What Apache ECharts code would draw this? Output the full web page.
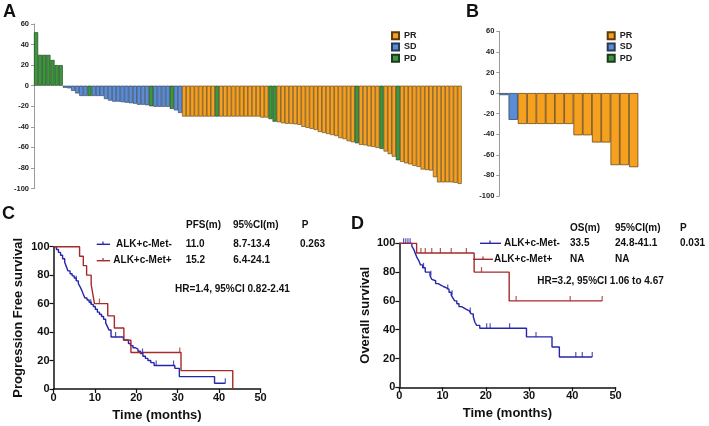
<!DOCTYPE html>
<html><head><meta charset="utf-8">
<script src="https://cdn.jsdelivr.net/npm/echarts@6/dist/echarts.min.js"></script>
<style>html,body{margin:0;padding:0;background:#fff}#c{width:709px;height:426px}</style>
</head><body><div id="c"></div>
<script>
// ---------- Panel A: waterfall ----------
const valuesA = [52,30,30,30,25,20,20,
 -2,-2.5,-5,-7.5,-10,-10,-10,-10,-10,-10,-13,-14.5,-15.5,-15.5,-16,-16.5,-17,-17.5,-18.5,-18.5,-19,-20,-20.5,-20.5,-20.5,-20.5,-22.5,-24,-26.5,
 -30,-30,-30,-30,-30,-30,-30,-30,-30,-30,-30,-30,-30,-30,-30,-30,-30,-30,-30,-31,-31,-32.5,-35,
 -35.5,-36.5,-37,-37,-37.5,-38,-40,-41,-42,-43,-45,-46,-47,-48,-49,-51,-52,-54,-55,-56,-57.5,-58,-59,-59.5,-60.5,-61.5,-64,-66.5,-69,-72.5,
 -74,-75.5,-76.5,-78,-79,-81.5,-82,-82.5,-89,-94,-94,-94,-94,-94.5,-95.5];
const pdIdxA = [0,1,2,3,4,5,6,13,28,33,44,57,58,78,84,88];
const responseA = valuesA.map((v,i)=> pdIdxA.includes(i) ? 'PD' : (i>=7 && i<=35 ? 'SD' : 'PR'));
// ---------- Panel B ----------
const valuesB = [-2,-26,-30,-30,-30,-30,-30,-30,-41,-41,-48,-48,-70,-70,-72];
const responseB = ['SD','SD','PR','PR','PR','PR','PR','PR','PR','PR','PR','PR','PR','PR','PR'];
const responseTypes = ['PR','SD','PD'];
const waterfallTicks = [60,40,20,0,-20,-40,-60,-80,-100];
// ---------- Panel C: PFS ----------
const pfsNegT = [0,0.7,1.2,1.7,2.2,2.7,3.1,3.5,4.0,4.5,5.0,5.5,6.0,6.4,6.8,7.2,7.6,8.1,8.6,9.1,9.6,10.1,10.6,11.1,11.6,12.1,12.6,13.0,13.4,13.9,16.9,18.1,18.6,19.2,19.8,20.4,21.0,21.6,22.2,22.8,23.5,24.3,29.3,30.4,38.9,41.5];
const pfsNegS = [100,98,96,94,91.5,89,86,83,81,79.5,78,76,74,72,69.5,66.5,64,62.5,61,59.5,58,56,54,52.5,51,49,46.5,44,41.5,36.5,34.5,32,30.5,29,28,26.5,25,23,21.5,20,18.5,16.5,14.5,8.7,4,4];
const pfsNegCensT = [5.5,9.0,15.0,21.5,24.8,29.0,41.5];
const pfsNegCensS = [76,59.5,36.5,25,16.5,16.5,4];
const pfsPosT = [0,6.3,7.2,8.0,9.1,9.5,9.9,13.1,14.7,17.0,18.7,30.8,43.3,43.3];
const pfsPosS = [100,93.3,86.7,80,73.3,66.7,60,51.4,42.9,34.3,25.7,12.9,12.9,0];
const pfsPosCensT = [11.1,30.5];
const pfsPosCensS = [60,25.7];
// ---------- Panel D: OS ----------
const osNegT = [0,2.9,3.3,3.7,4.1,4.5,4.9,5.4,6.0,7.1,7.5,7.9,8.4,9.0,9.6,10.2,10.9,11.5,12.0,12.4,12.8,13.3,13.8,14.4,15.0,15.6,16.2,16.6,17.1,17.5,17.9,18.6,29.4,35.3,37.0,44.6];
const osNegS = [100,98,96,93,90,88,85,83,80,77.5,75,74,72,71,70,69,68,66,64,62,60,58,56,55,54,53,52,51,49,45,43,41,35,28,21,21];
const osNegCensT = [1,1.5,2,2.5,5.6,7.3,11.2,12.2,16.4,20.2,21.0,25.5,31.6,40.8,42.3,44.6];
const osNegCensS = [100,100,100,100,83,77.5,68,64,52,41,41,41,35,21,21,21];
const osPosT = [0,4.0,17.3,25.4,46.9];
const osPosS = [100,93.3,80,60,60];
const osPosCensT = [5,6,7.5,9.5,12,15.5,19,27,39.5,46.9];
const osPosCensS = [93.3,93.3,93.3,93.3,93.3,93.3,80,60,60,60];

const FONT = 'Liberation Sans, Arial, sans-serif';
const colors = {PR:'#F5A01E', SD:'#5B8DD6', PD:'#3C963C'};
const borders = {PR:'#5a3a10', SD:'#2a3a55', PD:'#1e3a1e'};
const BLUE = '#2626aa', RED = '#a52a2a';
const pairs = (t,s)=> t.map((x,i)=>[x,s[i]]);

const chart = echarts.init(document.getElementById('c'), null, {renderer:'canvas'});

function waterAxisY(gi){
  return {type:'value', gridIndex:gi, min:-100, max:60, interval:20,
    axisLine:{show:true, lineStyle:{color:'#9a9a9a', width:1}},
    axisTick:{show:true, length:3, lineStyle:{color:'#9a9a9a'}},
    axisLabel:{fontSize:7.5, fontWeight:'bold', color:'#222', margin:5, fontFamily:FONT},
    splitLine:{show:false}};
}
function waterAxisX(gi, n){
  return {type:'category', gridIndex:gi, data:Array.from({length:n},(_, i)=>String(i+1)), show:false,
    boundaryGap:true};
}
function kmAxisX(gi){
  return {type:'value', gridIndex:gi, min:0, max:50, interval:10,
    axisLine:{show:true, lineStyle:{color:'#111', width:1.5}},
    axisTick:{show:true, length:4, lineStyle:{color:'#111', width:1.2}},
    axisLabel:{fontSize:11, fontWeight:'bold', color:'#111', margin:3, fontFamily:FONT},
    splitLine:{show:false},
    name:'Time (months)', nameLocation:'middle', nameGap:20,
    nameTextStyle:{fontSize:13, fontWeight:'bold', color:'#111', fontFamily:FONT}};
}
function kmAxisY(gi, name, gap){
  return {type:'value', gridIndex:gi, min:0, max:100, interval:20,
    axisLine:{show:true, lineStyle:{color:'#111', width:1.5}},
    axisTick:{show:true, length:4, lineStyle:{color:'#111', width:1.2}},
    axisLabel:{fontSize:11, fontWeight:'bold', color:'#111', margin:4, fontFamily:FONT},
    splitLine:{show:false},
    name:name, nameLocation:'middle', nameGap:gap, nameRotate:90,
    nameTextStyle:{fontSize:13, fontWeight:'bold', color:'#111', fontFamily:FONT}};
}

const series = [];
responseTypes.forEach(r=>{
  series.push({name:r, type:'bar', xAxisIndex:0, yAxisIndex:0,
    data: valuesA.map((v,i)=> responseA[i]===r ? v : '-'),
    barGap:'-100%', barCategoryGap:'0%',
    itemStyle:{color:colors[r], borderColor:borders[r], borderWidth:0.6}, animation:false});
  series.push({name:r, type:'bar', xAxisIndex:1, yAxisIndex:1,
    data: valuesB.map((v,i)=> responseB[i]===r ? v : '-'),
    barGap:'-100%', barCategoryGap:'0%',
    itemStyle:{color:colors[r], borderColor:borders[r], borderWidth:0.7}, animation:false});
});
function km(xi, t, s, color){
  return {type:'line', xAxisIndex:xi, yAxisIndex:xi, step:'end', showSymbol:false, symbol:'none',
    data:pairs(t,s), lineStyle:{color:color, width:1.4}, animation:false, z:3};
}
function cens(xi, t, s, color){
  return {type:'scatter', xAxisIndex:xi, yAxisIndex:xi, data:pairs(t,s), symbol:'rect',
    symbolSize:[1.2,5], symbolOffset:[0,-2.5], itemStyle:{color:color}, animation:false, z:4};
}
series.push(km(2,pfsNegT,pfsNegS,BLUE), cens(2,pfsNegCensT,pfsNegCensS,BLUE));
series.push(km(2,pfsPosT,pfsPosS,RED), cens(2,pfsPosCensT,pfsPosCensS,RED));
series.push(km(3,osNegT,osNegS,BLUE), cens(3,osNegCensT,osNegCensS,BLUE));
series.push(km(3,osPosT,osPosS,RED), cens(3,osPosCensT,osPosCensS,RED));

function legendAt(left, top){
  return {show:true, left:left, top:top, orient:'vertical', data:responseTypes, icon:'rect',
    padding:0, itemWidth:7, itemHeight:7, itemGap:2.3, selectedMode:false,
    textStyle:{fontSize:9, fontWeight:'bold', color:'#222', fontFamily:FONT, lineHeight:9}};
}

const txt = (text, x, y, size, weight, color, align) => ({type:'text', silent:true,
  style:{text:text, x:x, y:y, font:(weight||'bold')+' '+(size||10)+'px '+FONT, fill:color||'#111',
    textAlign:align||'left', textVerticalAlign:'middle', verticalAlign:'middle'}});
const ln = (x1,y1,x2,y2,color,w)=>({type:'line', silent:true, shape:{x1,y1,x2,y2}, style:{stroke:color, lineWidth:w||1.4}});

const graphic = [
  txt('A', 3, 12, 18), txt('B', 466, 12, 18), txt('C', 2, 214, 18), txt('D', 351, 224, 18),
  // C table
  txt('PFS(m)',186,225), txt('95%CI(m)',233,225), txt('P',301.7,225),
  ln(96.7,244.3,110,244.3,BLUE), ln(103,241.5,103,244.3,BLUE,1.2),
  txt('ALK+c-Met-',116,244.3), txt('11.0',185.7,244.3), txt('8.7-13.4',233.3,244.3), txt('0.263',300,244.3),
  ln(96.7,260.7,110,260.7,RED), ln(103,257.9,103,260.7,RED,1.2),
  txt('ALK+c-Met+',113.3,260.7), txt('15.2',185.7,260.7), txt('6.4-24.1',233.3,260.7),
  txt('HR=1.4, 95%CI 0.82-2.41',175,289),
  // D table
  txt('OS(m)',570,228.3), txt('95%CI(m)',615,228.3), txt('P',680,228.3),
  ln(480,243.3,501,243.3,BLUE), ln(490,240.5,490,243.3,BLUE,1.2),
  txt('ALK+c-Met-',504,243.3), txt('33.5',570,243.3), txt('24.8-41.1',615,243.3), txt('0.031',680,243.3),
  ln(473,259.3,493,259.3,RED), ln(483,256.5,483,259.3,RED,1.2),
  txt('ALK+c-Met+',494,259.3), txt('NA',570,259.3), txt('NA',615,259.3),
  txt('HR=3.2, 95%CI 1.06 to 4.67',537.3,281.7)
];

chart.setOption({
  animation:false,
  backgroundColor:'#fff',
  textStyle:{fontFamily:FONT},
  grid:[
    {left:34, top:24, width:427.7, height:164.5},
    {left:499.3, top:31.3, width:139, height:164.7},
    {left:53.5, top:246.7, width:207, height:142.3},
    {left:399.3, top:243.3, width:216.3, height:144}
  ],
  xAxis:[waterAxisX(0, valuesA.length), waterAxisX(1, valuesB.length), kmAxisX(2), kmAxisX(3)],
  yAxis:[waterAxisY(0), waterAxisY(1), kmAxisY(2,'Progression Free survival',29), kmAxisY(3,'Overall survival',27)],
  legend:[legendAt(391,31.2), legendAt(606.7,31.2)],
  series:series,
  graphic:graphic
});
</script></body></html>
